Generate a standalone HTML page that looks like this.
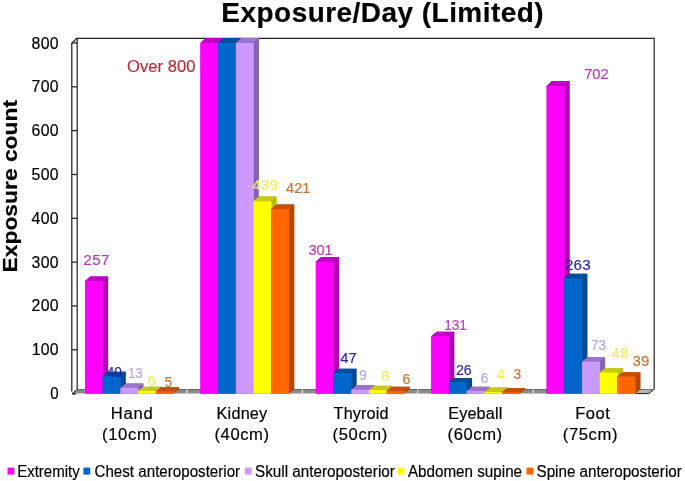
<!DOCTYPE html>
<html><head><meta charset="utf-8"><title>Exposure/Day (Limited)</title>
<style>html,body{margin:0;padding:0;background:#fff}svg{display:block}text{white-space:pre}</style>
</head><body>
<svg width="685" height="481" viewBox="0 0 685 481">
<rect width="685" height="481" fill="#fff"/>
<path d="M77.2 389.3 V38.4 H654.2 V389.3" fill="none" stroke="#222" stroke-width="1.2"/>
<path d="M71.8 391.6 V43.0 L77.2 38.0" fill="none" stroke="#222" stroke-width="1.25"/>
<path d="M71.8 349.78 H77.2" stroke="#222" stroke-width="1.25"/>
<path d="M71.8 305.95 H77.2" stroke="#222" stroke-width="1.25"/>
<path d="M71.8 262.12 H77.2" stroke="#222" stroke-width="1.25"/>
<path d="M71.8 218.30 H77.2" stroke="#222" stroke-width="1.25"/>
<path d="M71.8 174.48 H77.2" stroke="#222" stroke-width="1.25"/>
<path d="M71.8 130.65 H77.2" stroke="#222" stroke-width="1.25"/>
<path d="M71.8 86.82 H77.2" stroke="#222" stroke-width="1.25"/>
<path d="M71.8 43.00 H77.2" stroke="#222" stroke-width="1.25"/>
<path d="M71.8 393.6 L77.2 389.3 H654.2 L648.8 393.6 Z" fill="#8c8c8c"/>
<path d="M635.8 393.6 l5.4 -4.3 H654.2 L648.8 393.6 Z" fill="#b4b4b4"/>
<path d="M635.8 393.6 H648.8 L654.2 389.3" fill="none" stroke="#222" stroke-width="1"/>
<path d="M77.2 389.5 H654.2" stroke="#5a5a5a" stroke-width="0.8"/>
<path d="M72.3 393.90000000000003 h3.5" stroke="#111" stroke-width="1.4"/>
<path d="M72.1 393.6 L77.2 389.3" stroke="#222" stroke-width="1"/>
<path d="M187.00 393.6 v-4.3" stroke="#fff" stroke-width="0.9"/>
<path d="M302.40 393.6 v-4.3" stroke="#fff" stroke-width="0.9"/>
<path d="M417.80 393.6 v-4.3" stroke="#fff" stroke-width="0.9"/>
<path d="M533.20 393.6 v-4.3" stroke="#fff" stroke-width="0.9"/>
<path d="M85.05 393.60 H102.75 L108.15 389.30 V276.44 H90.45 L85.05 280.97 Z" fill="#B000B4"/>
<path d="M85.05 280.97 L90.45 276.44 H108.15 L102.75 280.97 Z" fill="#C000C4"/>
<rect x="85.05" y="280.97" width="18.00" height="112.63" fill="#FF00FF"/>
<path d="M102.75 393.60 H120.45 L125.85 389.30 V371.74 H108.15 L102.75 376.07 Z" fill="#004A94"/>
<path d="M102.75 376.07 L108.15 371.74 H125.85 L120.45 376.07 Z" fill="#004E9C"/>
<rect x="102.75" y="376.07" width="18.00" height="17.53" fill="#0066CC"/>
<path d="M120.45 393.60 H138.15 L143.55 389.30 V383.59 H125.85 L120.45 387.90 Z" fill="#8462B0"/>
<path d="M120.45 387.90 L125.85 383.59 H143.55 L138.15 387.90 Z" fill="#9973CC"/>
<rect x="120.45" y="387.90" width="18.00" height="5.70" fill="#CC99FF"/>
<path d="M138.15 393.60 H155.85 L161.25 389.30 V386.67 H143.55 L138.15 390.97 Z" fill="#B8B800"/>
<path d="M138.15 390.97 L143.55 386.67 H161.25 L155.85 390.97 Z" fill="#C8C818"/>
<rect x="138.15" y="390.97" width="18.00" height="2.63" fill="#FFFF00"/>
<path d="M155.85 393.60 H173.55 L178.95 389.30 V387.10 H161.25 L155.85 391.41 Z" fill="#B44800"/>
<path d="M155.85 391.41 L161.25 387.10 H178.95 L173.55 391.41 Z" fill="#C45010"/>
<rect x="155.85" y="391.41" width="18.00" height="2.19" fill="#FF6600"/>
<path d="M200.45 393.60 H218.15 L223.55 389.30 V38.00 H205.85 L200.45 43.00 Z" fill="#B000B4"/>
<path d="M200.45 43.00 L205.85 38.00 H223.55 L218.15 43.00 Z" fill="#C000C4"/>
<rect x="200.45" y="43.00" width="18.00" height="350.60" fill="#FF00FF"/>
<path d="M218.15 393.60 H235.85 L241.25 389.30 V38.00 H223.55 L218.15 43.00 Z" fill="#004A94"/>
<path d="M218.15 43.00 L223.55 38.00 H241.25 L235.85 43.00 Z" fill="#004E9C"/>
<rect x="218.15" y="43.00" width="18.00" height="350.60" fill="#0066CC"/>
<path d="M235.85 393.60 H253.55 L258.95 389.30 V38.00 H241.25 L235.85 43.00 Z" fill="#8462B0"/>
<path d="M235.85 43.00 L241.25 38.00 H258.95 L253.55 43.00 Z" fill="#9973CC"/>
<rect x="235.85" y="43.00" width="18.00" height="350.60" fill="#CC99FF"/>
<path d="M253.55 393.60 H271.25 L276.65 389.30 V196.52 H258.95 L253.55 201.21 Z" fill="#B8B800"/>
<path d="M253.55 201.21 L258.95 196.52 H276.65 L271.25 201.21 Z" fill="#C8C818"/>
<rect x="253.55" y="201.21" width="18.00" height="192.39" fill="#FFFF00"/>
<path d="M271.25 393.60 H288.95 L294.35 389.30 V204.43 H276.65 L271.25 209.10 Z" fill="#B44800"/>
<path d="M271.25 209.10 L276.65 204.43 H294.35 L288.95 209.10 Z" fill="#C45010"/>
<rect x="271.25" y="209.10" width="18.00" height="184.50" fill="#FF6600"/>
<path d="M315.85 393.60 H333.55 L338.95 389.30 V257.12 H321.25 L315.85 261.69 Z" fill="#B000B4"/>
<path d="M315.85 261.69 L321.25 257.12 H338.95 L333.55 261.69 Z" fill="#C000C4"/>
<rect x="315.85" y="261.69" width="18.00" height="131.91" fill="#FF00FF"/>
<path d="M333.55 393.60 H351.25 L356.65 389.30 V368.66 H338.95 L333.55 373.00 Z" fill="#004A94"/>
<path d="M333.55 373.00 L338.95 368.66 H356.65 L351.25 373.00 Z" fill="#004E9C"/>
<rect x="333.55" y="373.00" width="18.00" height="20.60" fill="#0066CC"/>
<path d="M351.25 393.60 H368.95 L374.35 389.30 V385.35 H356.65 L351.25 389.66 Z" fill="#8462B0"/>
<path d="M351.25 389.66 L356.65 385.35 H374.35 L368.95 389.66 Z" fill="#9973CC"/>
<rect x="351.25" y="389.66" width="18.00" height="3.94" fill="#CC99FF"/>
<path d="M368.95 393.60 H386.65 L392.05 389.30 V385.79 H374.35 L368.95 390.09 Z" fill="#B8B800"/>
<path d="M368.95 390.09 L374.35 385.79 H392.05 L386.65 390.09 Z" fill="#C8C818"/>
<rect x="368.95" y="390.09" width="18.00" height="3.51" fill="#FFFF00"/>
<path d="M386.65 393.60 H404.35 L409.75 389.30 V386.67 H392.05 L386.65 390.97 Z" fill="#B44800"/>
<path d="M386.65 390.97 L392.05 386.67 H409.75 L404.35 390.97 Z" fill="#C45010"/>
<rect x="386.65" y="390.97" width="18.00" height="2.63" fill="#FF6600"/>
<path d="M431.25 393.60 H448.95 L454.35 389.30 V331.77 H436.65 L431.25 336.19 Z" fill="#B000B4"/>
<path d="M431.25 336.19 L436.65 331.77 H454.35 L448.95 336.19 Z" fill="#C000C4"/>
<rect x="431.25" y="336.19" width="18.00" height="57.41" fill="#FF00FF"/>
<path d="M448.95 393.60 H466.65 L472.05 389.30 V377.88 H454.35 L448.95 382.21 Z" fill="#004A94"/>
<path d="M448.95 382.21 L454.35 377.88 H472.05 L466.65 382.21 Z" fill="#004E9C"/>
<rect x="448.95" y="382.21" width="18.00" height="11.39" fill="#0066CC"/>
<path d="M466.65 393.60 H484.35 L489.75 389.30 V386.67 H472.05 L466.65 390.97 Z" fill="#8462B0"/>
<path d="M466.65 390.97 L472.05 386.67 H489.75 L484.35 390.97 Z" fill="#9973CC"/>
<rect x="466.65" y="390.97" width="18.00" height="2.63" fill="#CC99FF"/>
<path d="M484.35 393.60 H502.05 L507.45 389.30 V387.54 H489.75 L484.35 391.85 Z" fill="#B8B800"/>
<path d="M484.35 391.85 L489.75 387.54 H507.45 L502.05 391.85 Z" fill="#C8C818"/>
<rect x="484.35" y="391.85" width="18.00" height="1.75" fill="#FFFF00"/>
<path d="M502.05 393.60 H519.75 L525.15 389.30 V387.98 H507.45 L502.05 392.29 Z" fill="#B44800"/>
<path d="M502.05 392.29 L507.45 387.98 H525.15 L519.75 392.29 Z" fill="#C45010"/>
<rect x="502.05" y="392.29" width="18.00" height="1.31" fill="#FF6600"/>
<path d="M546.65 393.60 H564.35 L569.75 389.30 V81.03 H552.05 L546.65 85.95 Z" fill="#B000B4"/>
<path d="M546.65 85.95 L552.05 81.03 H569.75 L564.35 85.95 Z" fill="#C000C4"/>
<rect x="546.65" y="85.95" width="18.00" height="307.65" fill="#FF00FF"/>
<path d="M564.35 393.60 H582.05 L587.45 389.30 V273.81 H569.75 L564.35 278.34 Z" fill="#004A94"/>
<path d="M564.35 278.34 L569.75 273.81 H587.45 L582.05 278.34 Z" fill="#004E9C"/>
<rect x="564.35" y="278.34" width="18.00" height="115.26" fill="#0066CC"/>
<path d="M582.05 393.60 H599.75 L605.15 389.30 V357.24 H587.45 L582.05 361.61 Z" fill="#8462B0"/>
<path d="M582.05 361.61 L587.45 357.24 H605.15 L599.75 361.61 Z" fill="#9973CC"/>
<rect x="582.05" y="361.61" width="18.00" height="31.99" fill="#CC99FF"/>
<path d="M599.75 393.60 H617.45 L622.85 389.30 V368.22 H605.15 L599.75 372.56 Z" fill="#B8B800"/>
<path d="M599.75 372.56 L605.15 368.22 H622.85 L617.45 372.56 Z" fill="#C8C818"/>
<rect x="599.75" y="372.56" width="18.00" height="21.04" fill="#FFFF00"/>
<path d="M617.45 393.60 H635.15 L640.55 389.30 V372.17 H622.85 L617.45 376.51 Z" fill="#B44800"/>
<path d="M617.45 376.51 L622.85 372.17 H640.55 L635.15 376.51 Z" fill="#C45010"/>
<rect x="617.45" y="376.51" width="18.00" height="17.09" fill="#FF6600"/>
<rect x="7.5" y="467.6" width="6.8" height="7" fill="#FF00FF"/>
<rect x="83.4" y="467.6" width="6.8" height="7" fill="#0066CC"/>
<rect x="244.9" y="467.6" width="6.8" height="7" fill="#CC99FF"/>
<rect x="397.7" y="467.6" width="6.8" height="7" fill="#FFFF00"/>
<rect x="526.5" y="467.6" width="6.8" height="7" fill="#FF6600"/>
<g font-family="Liberation Sans, Arial, sans-serif" stroke="#000" stroke-width="0.18">
<text x="221.38" y="21.80" font-size="27.4" letter-spacing="0.466" textLength="322.74" lengthAdjust="spacingAndGlyphs" font-weight="bold">Exposure/Day (Limited)</text>
<text x="50.30" y="399.10" font-size="15.6" textLength="8.38" lengthAdjust="spacingAndGlyphs">0</text>
<text x="31.79" y="355.28" font-size="15.6" letter-spacing="0.256" textLength="27.14" lengthAdjust="spacingAndGlyphs">100</text>
<text x="31.60" y="311.45" font-size="15.6" letter-spacing="0.316" textLength="27.39" lengthAdjust="spacingAndGlyphs">200</text>
<text x="31.60" y="267.62" font-size="15.6" letter-spacing="0.316" textLength="27.39" lengthAdjust="spacingAndGlyphs">300</text>
<text x="31.60" y="223.80" font-size="15.6" letter-spacing="0.316" textLength="27.39" lengthAdjust="spacingAndGlyphs">400</text>
<text x="31.60" y="179.98" font-size="15.6" letter-spacing="0.316" textLength="27.39" lengthAdjust="spacingAndGlyphs">500</text>
<text x="31.60" y="136.15" font-size="15.6" letter-spacing="0.316" textLength="27.39" lengthAdjust="spacingAndGlyphs">600</text>
<text x="31.60" y="92.32" font-size="15.6" letter-spacing="0.316" textLength="27.39" lengthAdjust="spacingAndGlyphs">700</text>
<text x="31.60" y="48.50" font-size="15.6" letter-spacing="0.316" textLength="27.39" lengthAdjust="spacingAndGlyphs">800</text>
<text x="110.86" y="418.80" font-size="16.0" letter-spacing="0.730" textLength="42.73" lengthAdjust="spacingAndGlyphs">Hand</text>
<text x="216.59" y="418.80" font-size="16.0" letter-spacing="0.201" textLength="50.82" lengthAdjust="spacingAndGlyphs">Kidney</text>
<text x="333.60" y="418.80" font-size="16.0" letter-spacing="0.155" textLength="55.07" lengthAdjust="spacingAndGlyphs">Thyroid</text>
<text x="448.19" y="418.80" font-size="16.0" letter-spacing="0.168" textLength="54.34" lengthAdjust="spacingAndGlyphs">Eyeball</text>
<text x="575.17" y="418.80" font-size="16.0" letter-spacing="0.526" textLength="35.20" lengthAdjust="spacingAndGlyphs">Foot</text>
<text x="102.06" y="439.90" font-size="16.0" letter-spacing="0.606" textLength="55.51" lengthAdjust="spacingAndGlyphs">(10cm)</text>
<text x="214.46" y="439.90" font-size="16.0" letter-spacing="0.570" textLength="55.17" lengthAdjust="spacingAndGlyphs">(40cm)</text>
<text x="332.56" y="439.90" font-size="16.0" letter-spacing="0.594" textLength="55.40" lengthAdjust="spacingAndGlyphs">(50cm)</text>
<text x="447.56" y="439.90" font-size="16.0" letter-spacing="0.570" textLength="55.17" lengthAdjust="spacingAndGlyphs">(60cm)</text>
<text x="562.86" y="439.90" font-size="16.0" letter-spacing="0.570" textLength="55.17" lengthAdjust="spacingAndGlyphs">(75cm)</text>
<text x="17.16" y="476.90" font-size="16.0" textLength="62.54" lengthAdjust="spacingAndGlyphs">Extremity</text>
<text x="94.50" y="476.90" font-size="16.0" textLength="145.66" lengthAdjust="spacingAndGlyphs">Chest anteroposterior</text>
<text x="255.00" y="476.90" font-size="16.0" textLength="139.86" lengthAdjust="spacingAndGlyphs">Skull anteroposterior</text>
<text x="407.90" y="476.90" font-size="16.0" textLength="114.20" lengthAdjust="spacingAndGlyphs">Abdomen supine</text>
<text x="536.50" y="476.90" font-size="16.0" textLength="145.26" lengthAdjust="spacingAndGlyphs">Spine anteroposterior</text>
<text x="83.30" y="265.10" font-size="15.0" letter-spacing="0.365" textLength="26.62" lengthAdjust="spacingAndGlyphs" fill="#B838B8" stroke="#B838B8" stroke-width="0.15">257</text>
<text x="106.70" y="376.90" font-size="15.0" textLength="15.21" lengthAdjust="spacingAndGlyphs" fill="#2626A4" stroke="#2626A4" stroke-width="0.15">40</text>
<text x="128.02" y="377.60" font-size="15.0" textLength="14.68" lengthAdjust="spacingAndGlyphs" fill="#B9A3DC" stroke="#B9A3DC" stroke-width="0.15">13</text>
<text x="147.80" y="386.40" font-size="15.0" textLength="7.93" lengthAdjust="spacingAndGlyphs" fill="#EEEE55" stroke="#EEEE55" stroke-width="0.15">6</text>
<text x="164.80" y="387.40" font-size="15.0" textLength="7.30" lengthAdjust="spacingAndGlyphs" fill="#C87030" stroke="#C87030" stroke-width="0.15">5</text>
<text x="252.30" y="189.90" font-size="15.0" letter-spacing="0.305" textLength="26.36" lengthAdjust="spacingAndGlyphs" fill="#EEEE55" stroke="#EEEE55" stroke-width="0.15">439</text>
<text x="286.10" y="193.10" font-size="15.0" textLength="24.33" lengthAdjust="spacingAndGlyphs" fill="#C87030" stroke="#C87030" stroke-width="0.15">421</text>
<text x="308.40" y="254.90" font-size="15.0" textLength="24.33" lengthAdjust="spacingAndGlyphs" fill="#B838B8" stroke="#B838B8" stroke-width="0.15">301</text>
<text x="340.30" y="363.20" font-size="15.0" textLength="16.44" lengthAdjust="spacingAndGlyphs" fill="#2626A4" stroke="#2626A4" stroke-width="0.15">47</text>
<text x="359.30" y="380.00" font-size="15.0" textLength="7.61" lengthAdjust="spacingAndGlyphs" fill="#B9A3DC" stroke="#B9A3DC" stroke-width="0.15">9</text>
<text x="381.20" y="380.80" font-size="15.0" textLength="8.13" lengthAdjust="spacingAndGlyphs" fill="#EEEE55" stroke="#EEEE55" stroke-width="0.15">8</text>
<text x="402.40" y="384.40" font-size="15.0" textLength="7.93" lengthAdjust="spacingAndGlyphs" fill="#C87030" stroke="#C87030" stroke-width="0.15">6</text>
<text x="444.30" y="329.70" font-size="15.0" textLength="22.61" lengthAdjust="spacingAndGlyphs" fill="#B838B8" stroke="#B838B8" stroke-width="0.15">131</text>
<text x="455.90" y="375.10" font-size="15.0" textLength="15.82" lengthAdjust="spacingAndGlyphs" fill="#2626A4" stroke="#2626A4" stroke-width="0.15">26</text>
<text x="480.80" y="383.40" font-size="15.0" textLength="7.51" lengthAdjust="spacingAndGlyphs" fill="#B9A3DC" stroke="#B9A3DC" stroke-width="0.15">6</text>
<text x="496.70" y="378.90" font-size="15.0" textLength="8.24" lengthAdjust="spacingAndGlyphs" fill="#EEEE55" stroke="#EEEE55" stroke-width="0.15">4</text>
<text x="513.40" y="379.30" font-size="15.0" textLength="7.72" lengthAdjust="spacingAndGlyphs" fill="#C87030" stroke="#C87030" stroke-width="0.15">3</text>
<text x="584.20" y="78.90" font-size="15.0" textLength="24.54" lengthAdjust="spacingAndGlyphs" fill="#B838B8" stroke="#B838B8" stroke-width="0.15">702</text>
<text x="564.90" y="269.70" font-size="15.0" letter-spacing="0.215" textLength="25.96" lengthAdjust="spacingAndGlyphs" fill="#2626A4" stroke="#2626A4" stroke-width="0.15">263</text>
<text x="591.10" y="349.70" font-size="15.0" textLength="14.91" lengthAdjust="spacingAndGlyphs" fill="#B9A3DC" stroke="#B9A3DC" stroke-width="0.15">73</text>
<text x="611.50" y="358.40" font-size="15.0" letter-spacing="0.215" textLength="17.26" lengthAdjust="spacingAndGlyphs" fill="#EEEE55" stroke="#EEEE55" stroke-width="0.15">48</text>
<text x="632.60" y="365.70" font-size="15.0" letter-spacing="0.095" textLength="16.94" lengthAdjust="spacingAndGlyphs" fill="#C87030" stroke="#C87030" stroke-width="0.15">39</text>
<text x="127.10" y="72.10" font-size="16.6" letter-spacing="0.006" textLength="68.34" lengthAdjust="spacingAndGlyphs" fill="#B92C36" stroke="#B92C36" stroke-width="0.15">Over 800</text>
<text transform="translate(16.6 271.3) rotate(-90)" x="-1.14" y="0" font-size="20" font-weight="bold" textLength="172.45" lengthAdjust="spacingAndGlyphs">Exposure count</text>
</g>
</svg>
</body></html>
